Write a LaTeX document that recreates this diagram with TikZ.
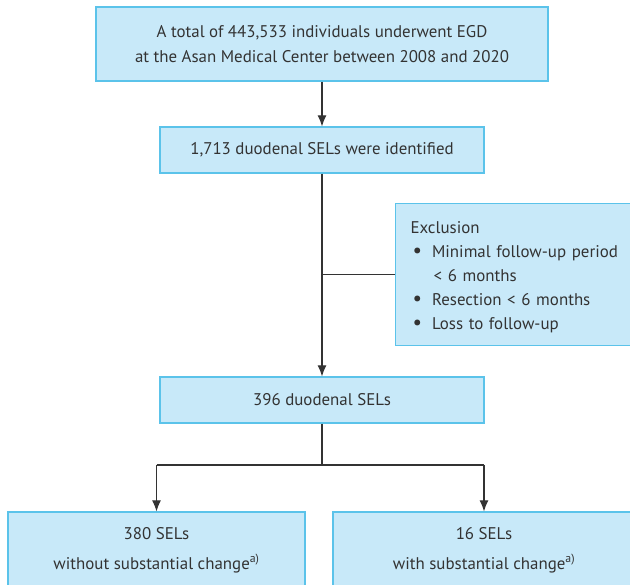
\documentclass[tikz,border=0pt]{standalone}
\usepackage{fontspec}
\setmainfont{PT Sans}
\usetikzlibrary{positioning,arrows.meta}
\definecolor{boxfill}{HTML}{C8E9F9}
\definecolor{boxline}{HTML}{5BC3EA}
\definecolor{ink}{HTML}{333333}

\tikzset{
  box/.style={draw=boxline, fill=boxfill, line width=1.2pt, align=center, text=ink,
    font=\fontsize{16.9}{30}\selectfont, inner sep=0pt},
  arr/.style={-{Latex[length=11pt,width=9pt]}},
  conn/.style={draw=ink, line width=1.1pt}
}
\newcommand{\blt}{\hspace*{2pt}{\fontsize{21}{21}\selectfont\textbullet}\hspace{10pt}}

\begin{document}
\begin{tikzpicture}[x=1pt,y=-1pt]
  \clip (0,0) rectangle (630,585);
  \fill[white] (0,0) rectangle (630,585);
  % boxes
  \node[box, minimum width=452pt, minimum height=74pt, font=\fontsize{16.9}{25}\selectfont] (total) at (322,44)
    {A total of 443,533 individuals underwent EGD\\at the Asan Medical Center between 2008 and 2020};
  \node[box, minimum width=324pt, minimum height=46pt] (dsel) at (322,150)
    {1,713 duodenal SELs were identified};
  \node[box, anchor=west, align=left, text width=222pt, inner xsep=15pt, minimum height=142pt,
    font=\fontsize{16.9}{24}\selectfont] (excl) at (395,274.5)
    {\rule{0pt}{18pt}Exclusion\\
     \blt Minimal follow-up period\\
     \hspace*{23pt}< 6 months\\
     \blt Resection < 6 months\\
     \blt Loss to follow-up};
  \node[box, minimum width=324pt, minimum height=46pt] (sel396) at (322,400)
    {396 duodenal SELs};
  \node[box, minimum width=297pt, minimum height=76pt] (nochg) at (156.5,550)
    {380 SELs\\without substantial change\textsuperscript{a)}};
  \node[box, minimum width=302pt, minimum height=76pt] (chg) at (484,550)
    {16 SELs\\with substantial change\textsuperscript{a)}};
  % connectors
  \coordinate (split) at (322,465);
  \draw[conn, arr] (total) -- (dsel);
  \draw[conn, arr] (dsel) -- (sel396);
  \draw[conn] (dsel.south |- excl.west) -- (excl.west);
  \draw[conn] (sel396) -- (split);
  \draw[conn] (split -| nochg.north) -- (split -| chg.north);
  \draw[conn, arr] (split -| nochg.north) -- (nochg);
  \draw[conn, arr] (split -| chg.north) -- (chg);
\end{tikzpicture}
\end{document}
